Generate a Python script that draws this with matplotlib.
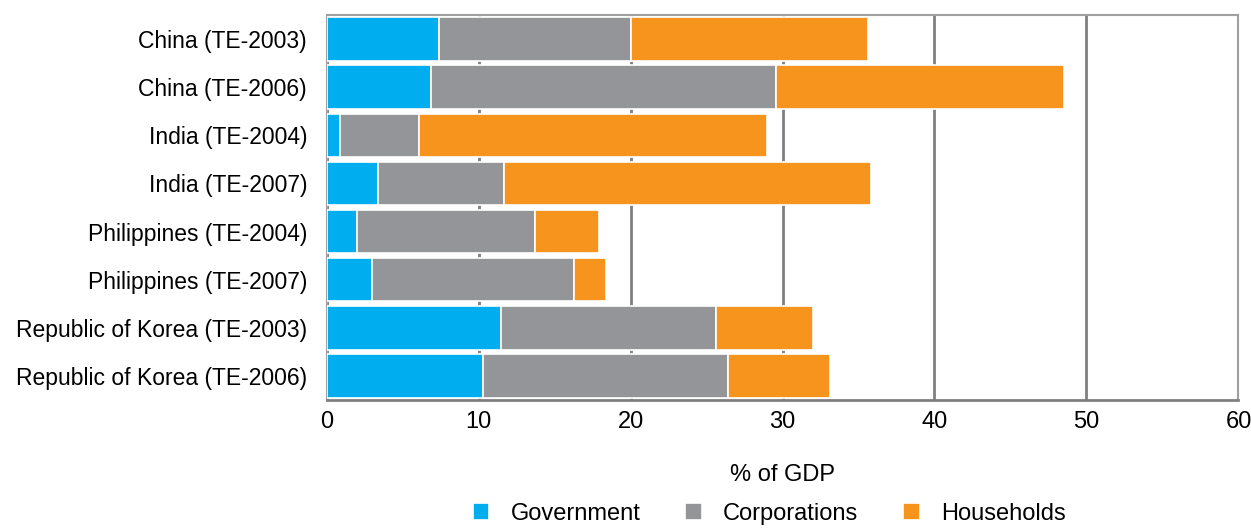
import matplotlib.pyplot as plt
import numpy as np

plt.rcParams["font.family"] = ["Liberation Sans", "DejaVu Sans"]

countries = [
    "China (TE-2003)",
    "China (TE-2006)",
    "India (TE-2004)",
    "India (TE-2007)",
    "Philippines (TE-2004)",
    "Philippines (TE-2007)",
    "Republic of Korea (TE-2003)",
    "Republic of Korea (TE-2006)",
]
government = [7.4, 6.9, 0.9, 3.4, 2.0, 3.0, 11.5, 10.3]
corporations = [12.6, 22.7, 5.2, 8.3, 11.7, 13.3, 14.1, 16.1]
households = [15.6, 18.9, 22.9, 24.1, 4.2, 2.1, 6.4, 6.7]

series = [
    ("Government", government, "#00aeef"),
    ("Corporations", corporations, "#939598"),
    ("Households", households, "#f7941d"),
]

fig, ax = plt.subplots()
fig.set_size_inches(12.51, 5.30)
fig.subplots_adjust(left=0.261, right=0.99, top=0.972, bottom=0.245)

y = np.arange(len(countries))
left = np.zeros(len(countries))
for name, vals, color in series:
    ax.barh(y, vals, left=left, height=0.9, color=color, edgecolor="white",
            linewidth=1.2, label=name, zorder=3)
    left += np.array(vals)

ax.set_ylim(len(countries) - 0.5, -0.5)
ax.set_xlim(0, 60)
ax.set_xticks(range(0, 61, 10))
ax.set_yticks(y)
ax.set_yticklabels(countries)
ax.tick_params(axis="both", labelsize=17, length=0, pad=8)
ax.tick_params(axis="y", labelsize=16.5, pad=14)
ax.grid(axis="x", color="#808080", linewidth=2, zorder=0)
for s in ax.spines.values():
    s.set_color("#a0a0a0")
    s.set_linewidth(1.5)
ax.spines["bottom"].set_color("#808080")
ax.spines["bottom"].set_linewidth(2)
ax.set_xlabel("% of GDP", fontsize=17, labelpad=22)

fig.legend(loc="lower center", bbox_to_anchor=(0.615, -0.03), ncol=3, fontsize=17,
           frameon=False, handlelength=0.7, handleheight=0.7, columnspacing=1.9,
           handletextpad=0.9)

fig.savefig("out.png", dpi=100)
plt.close(fig)
